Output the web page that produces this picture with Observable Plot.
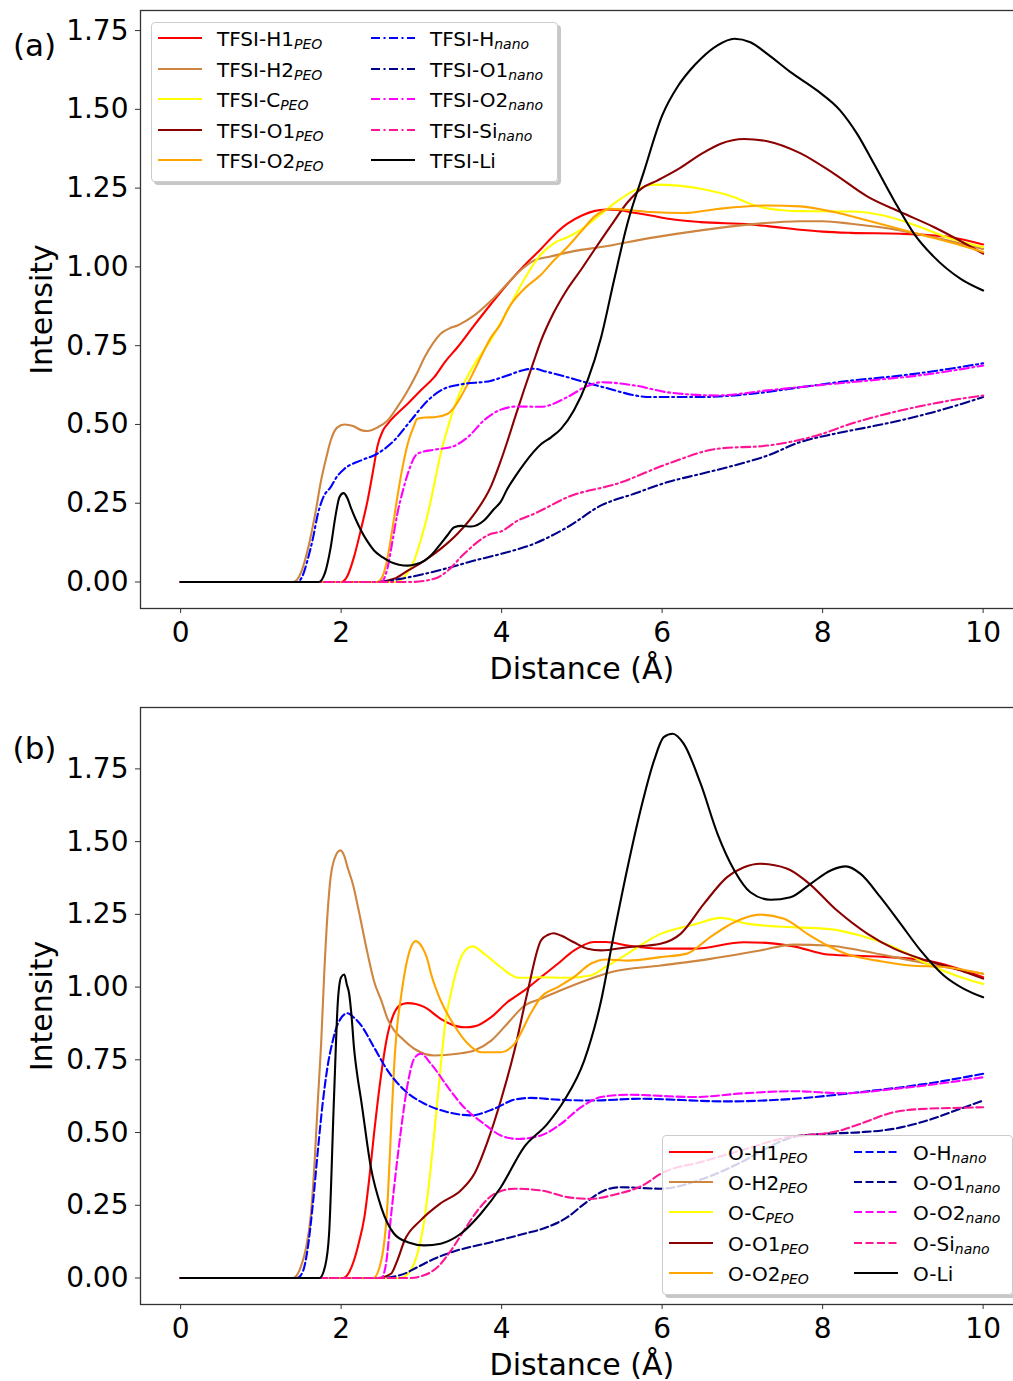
<!DOCTYPE html>
<html><head><meta charset="utf-8">
<script src="https://cdn.jsdelivr.net/npm/d3@7"></script>
<script src="https://cdn.jsdelivr.net/npm/@observablehq/plot@0.6"></script>
<style>
body{margin:0;background:#fff;font-family:"DejaVu Sans",sans-serif;}
#wrap{position:relative;width:1013px;height:1381px;overflow:hidden;background:#fff;}
#wrap svg.plot-root{display:block;}
.legend{position:absolute;background:rgba(255,255,255,0.82);border:1px solid #cccccc;border-radius:4px;box-shadow:3px 3px 0 rgba(0,0,0,0.22);box-sizing:border-box;}
.item{position:absolute;height:26px;display:flex;align-items:center;font-size:20px;color:#000;white-space:nowrap;font-family:"DejaVu Sans",sans-serif;}
.item svg{margin-right:15px;flex:none;}
.item .sb{font-size:14px;font-style:italic;position:relative;top:5px;}
</style></head>
<body><div id="wrap"></div>
<script>
// ---------- tick values ----------
const xTicks = [0, 2, 4, 6, 8, 10];
const yTicks = [0, 0.25, 0.5, 0.75, 1.0, 1.25, 1.5, 1.75];

// ---------- panel (a): TFSI RDFs  [distance Å, intensity] ----------
const tfsiH1 = [[0,0],[2.0,0],[2.08,0.02],[2.16,0.079],[2.25,0.17],[2.33,0.259],[2.41,0.37],[2.45,0.428],[2.52,0.48],[2.58,0.502],[2.70,0.535],[2.83,0.566],[3.0,0.61],[3.16,0.650],[3.30,0.70],[3.45,0.745],[3.66,0.815],[3.87,0.883],[4.07,0.945],[4.28,1.004],[4.49,1.057],[4.65,1.10],[4.82,1.137],[5.0,1.163],[5.15,1.177],[5.30,1.182],[5.44,1.181],[5.65,1.172],[5.86,1.163],[6.1,1.152],[6.48,1.142],[7.10,1.135],[7.40,1.127],[7.72,1.118],[8.0,1.112],[8.35,1.108],[8.97,1.105],[9.59,1.094],[10,1.071]];
const tfsiH2 = [[0,0],[1.40,0],[1.50,0.03],[1.60,0.12],[1.68,0.22],[1.75,0.322],[1.82,0.40],[1.87,0.449],[1.95,0.49],[2.04,0.50],[2.15,0.495],[2.25,0.482],[2.33,0.479],[2.45,0.49],[2.58,0.513],[2.70,0.555],[2.83,0.608],[2.95,0.665],[3.04,0.713],[3.15,0.76],[3.24,0.788],[3.35,0.805],[3.45,0.814],[3.55,0.828],[3.66,0.846],[3.87,0.893],[4.07,0.946],[4.24,0.99],[4.40,1.02],[4.61,1.033],[4.9,1.05],[5.24,1.063],[5.86,1.092],[6.48,1.116],[7.10,1.135],[7.72,1.145],[8.0,1.145],[8.35,1.137],[8.97,1.116],[9.38,1.094],[10,1.057]];
const tfsiC = [[0,0],[2.70,0],[2.80,0.02],[2.91,0.068],[3.0,0.14],[3.08,0.216],[3.16,0.31],[3.24,0.407],[3.33,0.49],[3.41,0.555],[3.53,0.63],[3.66,0.69],[3.87,0.77],[4.07,0.86],[4.28,0.96],[4.49,1.04],[4.65,1.075],[4.82,1.094],[5.0,1.12],[5.24,1.168],[5.45,1.21],[5.65,1.242],[5.90,1.261],[6.2,1.258],[6.48,1.248],[6.90,1.221],[7.10,1.20],[7.23,1.19],[7.50,1.18],[7.72,1.177],[8.35,1.176],[8.76,1.163],[9.18,1.13],[9.59,1.09],[10,1.063]];
const tfsiO1 = [[0,0],[2.45,0],[2.66,0.010],[2.83,0.036],[3.04,0.068],[3.24,0.105],[3.45,0.153],[3.66,0.216],[3.87,0.305],[3.99,0.385],[4.07,0.445],[4.17,0.525],[4.28,0.61],[4.40,0.70],[4.49,0.765],[4.65,0.855],[4.82,0.93],[5.0,0.995],[5.15,1.052],[5.36,1.13],[5.57,1.205],[5.75,1.25],[5.94,1.274],[6.2,1.31],[6.48,1.357],[6.73,1.391],[7.02,1.406],[7.31,1.399],[7.72,1.361],[8.14,1.296],[8.56,1.223],[8.97,1.174],[9.39,1.126],[10,1.042]];
const tfsiO2 = [[0,0],[2.45,0],[2.52,0.02],[2.58,0.079],[2.64,0.17],[2.70,0.269],[2.77,0.37],[2.83,0.439],[2.90,0.49],[2.95,0.518],[3.05,0.522],[3.16,0.523],[3.33,0.534],[3.41,0.555],[3.49,0.587],[3.58,0.63],[3.66,0.671],[3.87,0.777],[3.99,0.82],[4.07,0.862],[4.28,0.930],[4.49,0.975],[4.65,1.02],[4.82,1.063],[5.0,1.115],[5.15,1.158],[5.36,1.184],[5.6,1.18],[5.86,1.174],[6.27,1.171],[6.69,1.184],[7.31,1.195],[7.72,1.192],[8.14,1.174],[8.56,1.147],[9.18,1.105],[9.59,1.078],[10,1.047]];
const tfsiHnano = [[0,0],[1.45,0],[1.52,0.02],[1.58,0.068],[1.65,0.14],[1.71,0.216],[1.78,0.27],[1.87,0.301],[1.95,0.335],[2.04,0.359],[2.25,0.386],[2.45,0.407],[2.66,0.449],[2.87,0.513],[3.08,0.576],[3.28,0.613],[3.49,0.627],[3.87,0.639],[4.07,0.655],[4.28,0.673],[4.40,0.677],[4.55,0.668],[4.82,0.650],[5.24,0.620],[5.86,0.587],[6.48,0.587],[7.10,0.597],[7.72,0.618],[8.35,0.639],[8.97,0.655],[9.59,0.677],[10,0.694]];
const tfsiO1nano = [[0,0],[2.45,0],[2.74,0.010],[3.04,0.026],[3.37,0.047],[3.66,0.068],[3.99,0.089],[4.40,0.121],[4.82,0.174],[5.24,0.243],[5.65,0.280],[6.07,0.317],[6.48,0.343],[6.90,0.370],[7.31,0.401],[7.72,0.444],[8.14,0.470],[8.56,0.491],[8.97,0.513],[9.38,0.539],[10,0.587]];
const tfsiO2nano = [[0,0],[2.50,0],[2.58,0.047],[2.64,0.13],[2.70,0.216],[2.77,0.29],[2.83,0.343],[2.95,0.407],[3.16,0.420],[3.37,0.428],[3.58,0.460],[3.78,0.513],[3.99,0.547],[4.20,0.557],[4.49,0.556],[4.82,0.587],[5.05,0.62],[5.24,0.634],[5.65,0.624],[6.07,0.602],[6.69,0.592],[7.31,0.608],[7.93,0.624],[8.56,0.639],[9.18,0.655],[10,0.687]];
const tfsiSinano = [[0,0],[2.85,0],[3.16,0.010],[3.33,0.036],[3.53,0.089],[3.87,0.153],[3.99,0.16],[4.20,0.195],[4.40,0.216],[4.49,0.227],[4.82,0.269],[5.44,0.312],[6.07,0.375],[6.69,0.423],[7.31,0.433],[7.93,0.465],[8.35,0.502],[8.97,0.544],[9.59,0.576],[10,0.592]];
const tfsiLi = [[0,0],[1.72,0],[1.80,0.03],[1.87,0.110],[1.93,0.21],[1.98,0.27],[2.03,0.282],[2.08,0.265],[2.12,0.237],[2.18,0.20],[2.25,0.163],[2.33,0.128],[2.41,0.100],[2.52,0.078],[2.62,0.063],[2.72,0.055],[2.83,0.052],[2.93,0.056],[3.04,0.068],[3.14,0.09],[3.24,0.121],[3.33,0.15],[3.41,0.174],[3.50,0.178],[3.62,0.176],[3.78,0.195],[3.90,0.23],[3.99,0.255],[4.07,0.295],[4.17,0.335],[4.28,0.375],[4.49,0.437],[4.62,0.46],[4.74,0.486],[4.90,0.544],[5.07,0.639],[5.24,0.777],[5.40,0.957],[5.57,1.14],[5.77,1.30],[6.0,1.48],[6.2,1.575],[6.35,1.625],[6.48,1.660],[6.69,1.703],[6.90,1.724],[7.10,1.713],[7.31,1.676],[7.60,1.618],[7.93,1.560],[8.22,1.496],[8.43,1.422],[8.64,1.327],[8.89,1.211],[9.14,1.105],[9.39,1.031],[9.72,0.962],[10,0.925]];

// ---------- panel (b): O RDFs ----------
const oH1 = [[0,0],[2.02,0],[2.10,0.02],[2.16,0.060],[2.22,0.12],[2.29,0.209],[2.35,0.34],[2.41,0.496],[2.50,0.702],[2.58,0.839],[2.66,0.91],[2.75,0.94],[2.83,0.945],[2.93,0.942],[3.04,0.931],[3.24,0.891],[3.45,0.865],[3.55,0.862],[3.66,0.865],[3.87,0.897],[4.07,0.948],[4.28,0.988],[4.49,1.034],[4.70,1.080],[4.90,1.125],[5.15,1.155],[5.30,1.155],[5.57,1.143],[5.98,1.132],[6.40,1.132],[7.02,1.154],[7.30,1.152],[7.64,1.140],[8.06,1.112],[8.68,1.105],[9.30,1.091],[10,1.034]];
const oH2 = [[0,0],[1.40,0],[1.50,0.04],[1.56,0.10],[1.62,0.209],[1.67,0.40],[1.71,0.610],[1.75,0.80],[1.79,1.05],[1.83,1.25],[1.87,1.38],[1.91,1.435],[1.99,1.470],[2.04,1.45],[2.08,1.412],[2.15,1.35],[2.21,1.275],[2.33,1.115],[2.41,1.02],[2.50,0.954],[2.58,0.89],[2.66,0.851],[2.74,0.828],[2.91,0.788],[3.16,0.765],[3.45,0.771],[3.66,0.782],[3.87,0.816],[4.07,0.874],[4.28,0.935],[4.49,0.960],[4.70,0.985],[5.11,1.029],[5.36,1.051],[5.98,1.074],[6.60,1.097],[7.22,1.126],[7.64,1.146],[8.06,1.143],[8.47,1.126],[8.89,1.103],[9.30,1.080],[10,1.046]];
const oC = [[0,0],[2.74,0],[2.85,0.02],[2.95,0.083],[3.02,0.17],[3.08,0.289],[3.16,0.496],[3.24,0.725],[3.30,0.88],[3.37,0.98],[3.45,1.068],[3.53,1.120],[3.64,1.140],[3.78,1.115],[3.99,1.068],[4.10,1.045],[4.20,1.032],[4.49,1.034],[4.82,1.032],[5.11,1.040],[5.30,1.07],[5.57,1.115],[5.98,1.183],[6.40,1.215],[6.73,1.238],[7.06,1.218],[7.44,1.208],[8.06,1.200],[8.47,1.177],[8.89,1.137],[9.30,1.080],[9.72,1.034],[10,1.011]];
const oO1 = [[0,0],[2.45,0],[2.62,0.014],[2.70,0.06],[2.79,0.129],[2.99,0.198],[3.24,0.257],[3.49,0.301],[3.66,0.358],[3.83,0.473],[3.99,0.610],[4.16,0.782],[4.32,0.98],[4.49,1.160],[4.58,1.18],[4.65,1.185],[4.74,1.177],[4.90,1.154],[5.07,1.132],[5.24,1.126],[5.57,1.137],[5.98,1.149],[6.23,1.183],[6.52,1.286],[6.81,1.378],[7.02,1.412],[7.22,1.424],[7.56,1.407],[7.81,1.361],[8.18,1.263],[8.56,1.183],[8.89,1.132],[9.30,1.091],[9.72,1.057],[10,1.029]];
const oO2 = [[0,0],[2.40,0],[2.50,0.060],[2.58,0.266],[2.62,0.50],[2.66,0.725],[2.70,0.87],[2.74,0.954],[2.79,1.046],[2.87,1.137],[2.93,1.158],[3.01,1.137],[3.07,1.10],[3.12,1.046],[3.24,0.954],[3.41,0.868],[3.58,0.805],[3.74,0.776],[3.99,0.776],[4.16,0.805],[4.36,0.908],[4.49,0.965],[4.70,1.000],[4.90,1.034],[5.11,1.080],[5.30,1.095],[5.57,1.091],[5.98,1.103],[6.31,1.115],[6.60,1.172],[6.90,1.223],[7.22,1.249],[7.52,1.235],[7.81,1.183],[8.06,1.143],[8.35,1.109],[8.68,1.091],[9.09,1.074],[9.51,1.069],[10,1.046]];
const oHnano = [[0,0],[1.45,0],[1.52,0.02],[1.58,0.095],[1.65,0.26],[1.71,0.438],[1.77,0.60],[1.83,0.725],[1.90,0.82],[1.96,0.874],[2.08,0.910],[2.16,0.895],[2.25,0.868],[2.41,0.793],[2.58,0.713],[2.79,0.645],[3.04,0.599],[3.33,0.570],[3.62,0.559],[3.91,0.582],[4.16,0.613],[4.36,0.619],[4.70,0.613],[5.11,0.610],[5.73,0.616],[6.81,0.607],[7.64,0.616],[8.47,0.639],[9.30,0.668],[10,0.702]];
const oO1nano = [[0,0],[2.45,0],[2.74,0.010],[2.95,0.037],[3.16,0.066],[3.45,0.095],[3.87,0.123],[4.28,0.152],[4.57,0.175],[4.82,0.209],[5.03,0.255],[5.28,0.301],[5.48,0.312],[5.98,0.307],[6.5,0.34],[7.0,0.40],[7.4,0.46],[7.64,0.485],[8.0,0.495],[8.47,0.501],[8.89,0.513],[9.30,0.541],[9.72,0.582],[10,0.610]];
const oO2nano = [[0,0],[2.50,0],[2.56,0.05],[2.62,0.209],[2.68,0.36],[2.74,0.496],[2.83,0.668],[2.91,0.754],[2.99,0.771],[3.12,0.736],[3.33,0.656],[3.53,0.587],[3.78,0.530],[3.99,0.490],[4.20,0.478],[4.49,0.490],[4.74,0.530],[4.99,0.587],[5.24,0.622],[5.57,0.630],[6.40,0.622],[7.02,0.635],[7.64,0.642],[8.27,0.635],[8.89,0.650],[9.51,0.670],[10,0.690]];
const oSinano = [[0,0],[2.85,0],[3.04,0.010],[3.20,0.037],[3.37,0.095],[3.53,0.163],[3.70,0.232],[3.91,0.289],[4.16,0.307],[4.49,0.301],[4.82,0.278],[5.11,0.272],[5.40,0.286],[5.77,0.320],[5.98,0.358],[6.5,0.40],[7.0,0.44],[7.5,0.48],[8.22,0.507],[8.47,0.530],[8.89,0.570],[9.30,0.582],[9.72,0.585],[10,0.587]];
const oLi = [[0,0],[1.73,0],[1.80,0.04],[1.85,0.152],[1.91,0.610],[1.96,0.954],[2.00,1.034],[2.04,1.043],[2.07,1.01],[2.10,0.977],[2.13,0.90],[2.16,0.793],[2.20,0.70],[2.25,0.610],[2.37,0.381],[2.50,0.243],[2.66,0.152],[2.83,0.123],[3.04,0.112],[3.24,0.118],[3.49,0.152],[3.74,0.221],[3.99,0.312],[4.28,0.450],[4.57,0.530],[4.78,0.610],[5.03,0.748],[5.24,0.954],[5.40,1.183],[5.57,1.412],[5.73,1.607],[5.90,1.779],[6.02,1.859],[6.13,1.871],[6.27,1.836],[6.48,1.699],[6.69,1.527],[6.90,1.401],[7.10,1.326],[7.35,1.300],[7.60,1.309],[7.85,1.355],[8.10,1.401],[8.29,1.415],[8.47,1.390],[8.72,1.309],[8.97,1.218],[9.22,1.126],[9.51,1.040],[9.76,0.994],[10,0.965]];

// ---------- series names ----------
const namesA = ["TFSI-H1","TFSI-H2","TFSI-C","TFSI-O1","TFSI-O2","TFSI-H","TFSI-O1","TFSI-O2","TFSI-Si","TFSI-Li"];
const namesB = ["O-H1","O-H2","O-C","O-O1","O-O2","O-H","O-O1","O-O2","O-Si","O-Li"];
const subs = ["PEO","PEO","PEO","PEO","PEO","nano","nano","nano","nano",""];
const seriesA = [tfsiH1, tfsiH2, tfsiC, tfsiO1, tfsiO2, tfsiHnano, tfsiO1nano, tfsiO2nano, tfsiSinano, tfsiLi];
const seriesB = [oH1, oH2, oC, oO1, oO2, oHnano, oO1nano, oO2nano, oSinano, oLi];

// ---------- styles ----------
const colors = ["#ff0000","#cd853f","#ffff00","#8b0000","#ffa500","#0000ff","#00008b","#ff00ff","#ff1493","#000000"];
const DASHDOT = "9,3.5,2,3.5", DASHED = "8,3.5";
const dashA = [null,null,null,null,null,DASHDOT,DASHDOT,DASHDOT,DASHDOT,null];
const dashB = [null,null,null,null,null,DASHED,DASHED,DASHED,DASHED,null];

const W = 1013;
const FONT = "DejaVu Sans";

function panel(series, dashes, opts) {
  const lines = series.map((s, i) => Plot.line(s, {
    x: d => d[0], y: d => d[1], stroke: colors[i], strokeWidth: 2.1,
    strokeDasharray: dashes[i] || undefined, curve: "monotone-x"
  }));
  const lbl = {textAnchor: "middle", lineAnchor: "middle", fill: "#000", fontSize: 30};
  return Plot.plot({
    width: W, height: opts.height,
    marginLeft: 140, marginRight: -9.75, marginTop: opts.mt, marginBottom: opts.mb,
    x: {domain: [-0.5, 10.5]},
    y: {domain: opts.ydom},
    style: {fontFamily: FONT, fontSize: "28px", color: "#000", background: "transparent", overflow: "hidden"},
    marks: [
      ...lines,
      Plot.frame({stroke: "#333", strokeWidth: 1.3}),
      Plot.axisY({ticks: yTicks, tickFormat: d3.format(".2f"), tickSize: 5, tickPadding: 7, label: null, stroke: "#333", fontSize: 28}),
      Plot.axisX({ticks: xTicks, tickFormat: d3.format("d"), tickSize: 5, tickPadding: 9, label: null, stroke: "#333", fontSize: 28}),
      Plot.text(["Intensity"], {...lbl, text: d => d, frameAnchor: "left", rotate: -90, dx: -98}),
      Plot.text(["Distance (Å)"], {...lbl, text: d => d, frameAnchor: "bottom", dy: 61}),
      Plot.text([opts.tag], {...lbl, text: d => d, frameAnchor: "top-left", dx: -106, dy: opts.tagDy, fontSize: 31})
    ]
  });
}

const wrap = document.getElementById("wrap");
const pa = panel(seriesA, dashA, {height: 690, mt: 10, mb: 82, ydom: [-0.0841, 1.8137], tag: "(a)", tagDy: 36});
const pb = panel(seriesB, dashB, {height: 691, mt: 17, mb: 77, ydom: [-0.0911, 1.961], tag: "(b)", tagDy: 42});
pa.classList.add("plot-root"); pb.classList.add("plot-root");
wrap.appendChild(pa); wrap.appendChild(pb);

function legend(names, dashes, box, cols, rows) {
  const lg = document.createElement("div");
  lg.className = "legend";
  Object.assign(lg.style, {left: box.left + "px", top: box.top + "px", width: box.w + "px", height: box.h + "px"});
  names.forEach((nm, i) => {
    const c = Math.floor(i / 5), r = i % 5;
    const it = document.createElement("div");
    it.className = "item";
    it.style.left = (cols[c] - 1) + "px";
    it.style.top = (rows[r] - 13) + "px";
    const svgNS = "http://www.w3.org/2000/svg";
    const sv = document.createElementNS(svgNS, "svg");
    sv.setAttribute("width", 44); sv.setAttribute("height", 26);
    const ln = document.createElementNS(svgNS, "line");
    ln.setAttribute("x1", 0); ln.setAttribute("x2", 44); ln.setAttribute("y1", 12); ln.setAttribute("y2", 12);
    ln.setAttribute("stroke", colors[i]); ln.setAttribute("stroke-width", 2);
    if (dashes[i]) ln.setAttribute("stroke-dasharray", dashes[i]);
    sv.appendChild(ln);
    it.appendChild(sv);
    const t = document.createElement("span");
    t.textContent = nm;
    it.appendChild(t);
    if (subs[i]) {
      const s = document.createElement("span");
      s.className = "sb"; s.textContent = subs[i];
      it.appendChild(s);
    }
    lg.appendChild(it);
  });
  wrap.appendChild(lg);
}
legend(namesA, dashA, {left: 151, top: 22, w: 407, h: 160}, [7, 220], [16, 47, 77, 108, 138]);
legend(namesB, dashB, {left: 662, top: 1135, w: 351, h: 160}, [7, 192], [17, 47, 77, 108, 138]);
</script>
</body></html>
